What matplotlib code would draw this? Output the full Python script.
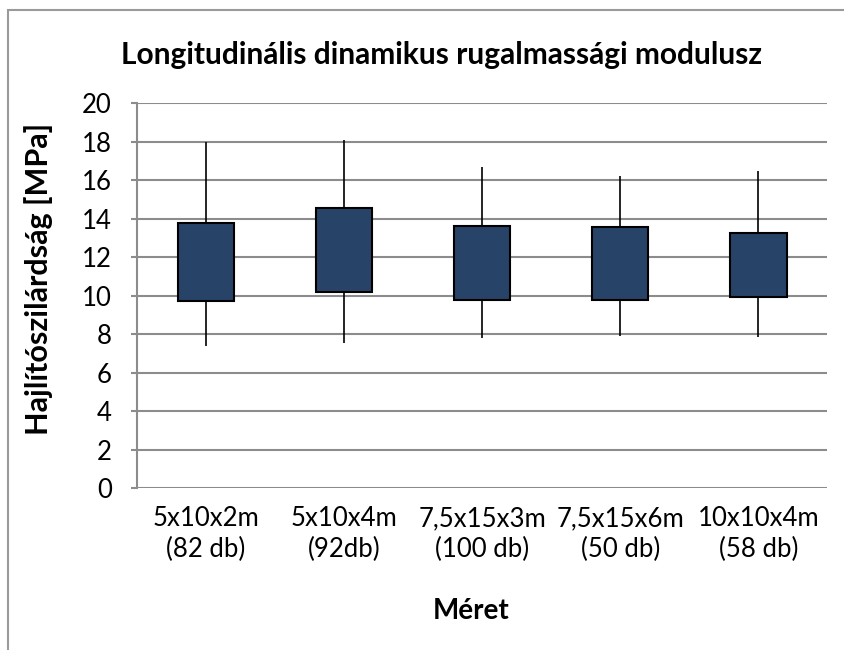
import matplotlib
matplotlib.use("Agg")
import matplotlib.pyplot as plt
from matplotlib.patches import Rectangle
import numpy as np

plt.rcParams['font.family'] = ['Lato', 'DejaVu Sans']

# adatok: min, also, felso, max
kategoriak = ['5x10x2m\n(82 db)', '5x10x4m\n(92db)', '7,5x15x3m\n(100 db)',
              '7,5x15x6m\n(50 db)', '10x10x4m\n(58 db)']
minimum = [7.40, 7.55, 7.81, 7.90, 7.87]
also = [9.73, 10.18, 9.77, 9.77, 9.94]
felso = [13.78, 14.54, 13.62, 13.54, 13.26]
maximum = [17.98, 18.10, 16.66, 16.21, 16.47]

fig = plt.figure(figsize=(8.45, 6.5), dpi=100)
ax = fig.add_axes([0.162, 0.249, 0.817, 0.5925])

# szurke keret a diagram korul
fig.patches.append(Rectangle((8 / 845, -0.1), 1.2, 1 - 10 / 650 + 0.1,
                             transform=fig.transFigure, fill=False,
                             edgecolor='#9a9a9a', linewidth=1.5))

x = np.arange(len(kategoriak))
ax.vlines(x, minimum, maximum, color='black', linewidth=1.2, zorder=2)
ax.bar(x, np.array(felso) - np.array(also), bottom=also, width=0.41,
       color='#274368', edgecolor='black', linewidth=1.5, zorder=3)

ax.set_xlim(-0.5, len(kategoriak) - 0.5)
ax.set_ylim(0, 20)
ax.set_yticks(np.arange(0, 21, 2))
ax.yaxis.grid(True, color='#8c8c8c', linewidth=1.5)
ax.set_axisbelow(True)
for s in ['top', 'right', 'bottom']:
    ax.spines[s].set_visible(False)
ax.spines['left'].set_color('#8c8c8c')
ax.spines['left'].set_linewidth(1.5)
ax.tick_params(axis='y', length=4, color='#8c8c8c', width=1.5, labelsize=18.5, pad=14)
ax.set_xticks(x)
ax.set_xticklabels(kategoriak, fontsize=18.5, linespacing=1.28)
ax.tick_params(axis='x', length=0, pad=13)

ax.set_ylabel('Hajlítószilárdság [MPa]', fontsize=22, fontweight='bold')
ax.yaxis.set_label_coords(-0.122, 0.543)
ax.set_xlabel('Méret', fontsize=20, fontweight='bold')
ax.xaxis.set_label_coords(0.484, -0.285)
fig.text(0.522, 0.915, 'Longitudinális dinamikus rugalmassági modulusz',
         ha='center', va='center', fontsize=21.5, fontweight='bold')

fig.savefig('out.png', dpi=100)
